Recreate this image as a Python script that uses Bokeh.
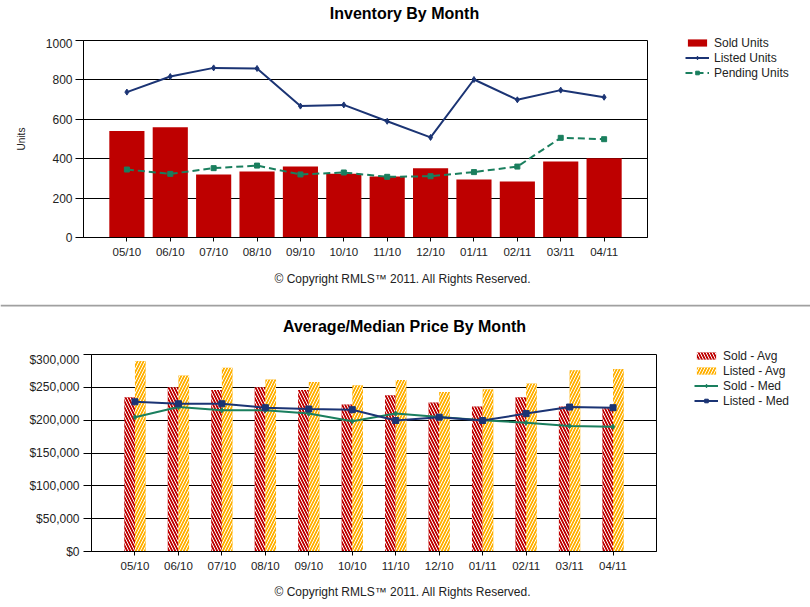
from bokeh.plotting import figure
from bokeh.models import (Legend, LegendItem, Label, FixedTicker, NumeralTickFormatter,
                          ColumnDataSource, Range1d, Span)
from bokeh.layouts import column, row
from bokeh.transform import dodge
from bokeh.embed import file_html
from bokeh.resources import INLINE

months = ["05/10", "06/10", "07/10", "08/10", "09/10", "10/10",
          "11/10", "12/10", "01/11", "02/11", "03/11", "04/11"]
sold_units = [540, 560, 320, 335, 360, 323, 310, 352, 294, 284, 386, 402]
listed_units = [738, 817, 861, 858, 667, 673, 590, 508, 802, 699, 748, 712]
pending_units = [345, 323, 352, 365, 320, 330, 308, 311, 332, 360, 506, 499]

sold_avg = [235000, 250000, 246000, 250000, 246000, 224000, 238000, 227000, 221000, 235000, 221000, 218000]
listed_avg = [290000, 268000, 280000, 262000, 258000, 253000, 261000, 243000, 247000, 256000, 276000, 278000]
sold_med = [204500, 220000, 215000, 215000, 210000, 198500, 210000, 205000, 200000, 196000, 191000, 190000]
listed_med = [228000, 225000, 225000, 219000, 217000, 216000, 199500, 204500, 199500, 210000, 220000, 219000]

unit_ticks = [0, 200, 400, 600, 800, 1000]
price_ticks = [0, 50000, 100000, 150000, 200000, 250000, 300000]
copyright_text = "\u00a9 Copyright RMLS\u2122 2011.  All Rights Reserved."

FONT = "Liberation Sans"
TXT = "#222222"
RED = "#BE0000"
NAVY = "#1B3474"
TEAL = "#1A7F5E"
ORANGE = "#FFB000"
SEP = "#a0a0a0"
HATCH = 6

xs = list(range(len(months)))
src = ColumnDataSource(dict(x=xs, months=months, sold_units=sold_units, listed_units=listed_units,
                            pending_units=pending_units, sold_avg=sold_avg, listed_avg=listed_avg,
                            sold_med=sold_med, listed_med=listed_med))
overrides = {i: m for i, m in zip(xs, months)}


def blank(w, h, xr=(0, 1), yr=(0, 1)):
    f = figure(width=w, height=h, x_range=Range1d(*xr), y_range=Range1d(*yr),
               x_axis_type=None, y_axis_type=None, output_backend="svg",
               toolbar_location=None, min_border=0)
    f.grid.visible = False
    f.outline_line_color = None
    f.background_fill_color = "white"
    f.border_fill_color = "white"
    return f


def text_fig(w, h, x, y, text, size, bold):
    # the frame of this figure is aligned with the chart frame below/above it
    f = blank(w, h)
    f.add_layout(Label(x=x, y=y, x_units="screen", y_units="screen", text=text,
                       text_align="center", text_baseline="middle", text_font=FONT,
                       text_font_size=size, text_font_style="bold" if bold else "normal",
                       text_color="black" if bold else TXT))
    return f


def style(p, yticks, ylabel_standoff):
    p.outline_line_color = "black"
    p.outline_line_width = 1
    p.xgrid.visible = False
    p.ygrid.grid_line_color = "black"
    p.ygrid.grid_line_alpha = 1.0
    p.ygrid.grid_line_width = 1
    p.background_fill_color = "white"
    p.border_fill_color = "white"
    p.xaxis.ticker = FixedTicker(ticks=xs)
    p.xaxis.major_label_overrides = overrides
    p.yaxis.ticker = FixedTicker(ticks=yticks)
    for ax in (p.xaxis[0], p.yaxis[0]):
        ax.axis_line_color = "black"
        ax.major_tick_line_color = "black"
        ax.minor_tick_line_color = None
        ax.major_tick_in = 0
        ax.major_label_text_font = FONT
        ax.major_label_text_color = TXT
    p.xaxis.major_tick_out = 4
    p.xaxis.major_label_standoff = 4
    p.xaxis.major_label_text_font_size = "11.5px"
    p.yaxis.major_tick_out = 8
    p.yaxis.major_label_standoff = ylabel_standoff
    p.yaxis.major_label_text_font_size = "12px"


def legend_fig(w, h, entries, loc):
    # legend swatches: the same series glyphs, drawn in a range where no data falls
    f = blank(w, h, xr=(-200, -199), yr=(-200, -199))
    items = []
    for label, kind, field, kw in entries:
        rs = []
        if kind == "bar":
            rs.append(f.vbar(x="x", top=field, width=0.5, source=src, line_color=None, **kw))
        else:
            line_kw = {k: v for k, v in kw.items() if k in ("line_color", "line_width", "line_dash")}
            rs.append(f.line("x", field, source=src, **line_kw))
            rs.append(f.scatter("x", field, source=src, marker=kw["marker"], size=kw["size"],
                                fill_color=kw["line_color"], line_color=kw["line_color"]))
        items.append(LegendItem(label=label, renderers=rs))
    lg = Legend(items=items, location=loc, background_fill_alpha=0, border_line_alpha=0,
                padding=0, margin=0, spacing=0, glyph_width=24, glyph_height=9,
                label_height=15, label_standoff=5, label_text_font=FONT,
                label_text_font_size="12px", label_text_color=TXT)
    f.add_layout(lg)
    return f


# ---------------- Top chart ----------------
p1 = figure(width=685, height=231, x_range=Range1d(-1, 12), y_range=Range1d(0, 1000),
            output_backend="svg", toolbar_location=None,
            min_border_left=83, min_border_right=38, min_border_top=2, min_border_bottom=32)
style(p1, unit_ticks, 3)
p1.yaxis.axis_label = "Units"
p1.yaxis.axis_label_text_font = FONT
p1.yaxis.axis_label_text_font_size = "10px"
p1.yaxis.axis_label_text_font_style = "normal"
p1.yaxis.axis_label_text_color = TXT
p1.yaxis.axis_label_standoff = 16

p1.vbar(x="x", top="sold_units", width=0.81, source=src, fill_color=RED, line_color=None)
p1.line("x", "listed_units", source=src, line_color=NAVY, line_width=2)
p1.scatter("x", "listed_units", source=src, marker="diamond", size=6,
           fill_color=NAVY, line_color=NAVY)
p1.line("x", "pending_units", source=src, line_color=TEAL, line_width=2, line_dash="7 4")
p1.scatter("x", "pending_units", source=src, marker="square", size=5,
           fill_color=TEAL, line_color=TEAL)

hdr1 = text_fig(685, 38, 321, 25, "Inventory By Month", "16px", True)
ftr1 = text_fig(685, 31, 321, 22, copyright_text, "12px", False)
leg1 = legend_fig(125, 300, [
    ("Sold Units", "bar", "sold_units", dict(fill_color=RED)),
    ("Listed Units", "line", "listed_units",
     dict(line_color=NAVY, line_width=2, marker="diamond", size=6)),
    ("Pending Units", "line", "pending_units",
     dict(line_color=TEAL, line_width=2, line_dash="7 4", marker="square", size=5)),
], (0, 220))
top = row(column(hdr1, p1, ftr1, spacing=0), leg1, spacing=0)

# ---------------- Separator ----------------
sep = blank(810, 8, yr=(0, 8))
sep.add_layout(Span(location=7, dimension="width", line_color=SEP, line_width=2))
sep.add_layout(Span(location=2, dimension="width", line_color=SEP, line_width=2))

# ---------------- Bottom chart ----------------
p2 = figure(width=694, height=231, x_range=Range1d(-1, 12), y_range=Range1d(0, 300000),
            output_backend="svg", toolbar_location=None,
            min_border_left=91, min_border_right=38, min_border_top=2, min_border_bottom=32)
style(p2, price_ticks, 4)
p2.yaxis.formatter = NumeralTickFormatter(format="$0,0")

p2.vbar(x=dodge("x", -0.123), top="sold_avg", width=0.246, source=src,
        fill_color=RED, line_color=None, hatch_pattern="\\", hatch_color="white",
        hatch_scale=HATCH, hatch_weight=1)
p2.vbar(x=dodge("x", 0.123), top="listed_avg", width=0.246, source=src,
        fill_color=ORANGE, line_color=None, hatch_pattern="/", hatch_color="white",
        hatch_scale=HATCH, hatch_weight=1)
p2.line("x", "sold_med", source=src, line_color=TEAL, line_width=2)
p2.scatter("x", "sold_med", source=src, marker="diamond", size=5,
           fill_color=TEAL, line_color=TEAL)
p2.line("x", "listed_med", source=src, line_color=NAVY, line_width=2)
p2.scatter("x", "listed_med", source=src, marker="square", size=6,
           fill_color=NAVY, line_color=NAVY)

hdr2 = text_fig(694, 44, 313, 26, "Average/Median Price By Month", "16px", True)
ftr2 = text_fig(694, 24, 313, 16, copyright_text, "12px", False)
leg2 = legend_fig(116, 299, [
    ("Sold - Avg", "bar", "sold_avg", dict(fill_color=RED, hatch_pattern="\\", hatch_color="white",
                                           hatch_scale=HATCH, hatch_weight=1)),
    ("Listed - Avg", "bar", "listed_avg", dict(fill_color=ORANGE, hatch_pattern="/",
                                               hatch_color="white", hatch_scale=HATCH,
                                               hatch_weight=1)),
    ("Sold - Med", "line", "sold_med",
     dict(line_color=TEAL, line_width=2, marker="diamond", size=5)),
    ("Listed - Med", "line", "listed_med",
     dict(line_color=NAVY, line_width=2, marker="square", size=6)),
], (0, 199))
bottom = row(column(hdr2, p2, ftr2, spacing=0), leg2, spacing=0)

layout = column(top, sep, bottom, spacing=0)
open("out.html", "w").write(file_html(layout, INLINE))
